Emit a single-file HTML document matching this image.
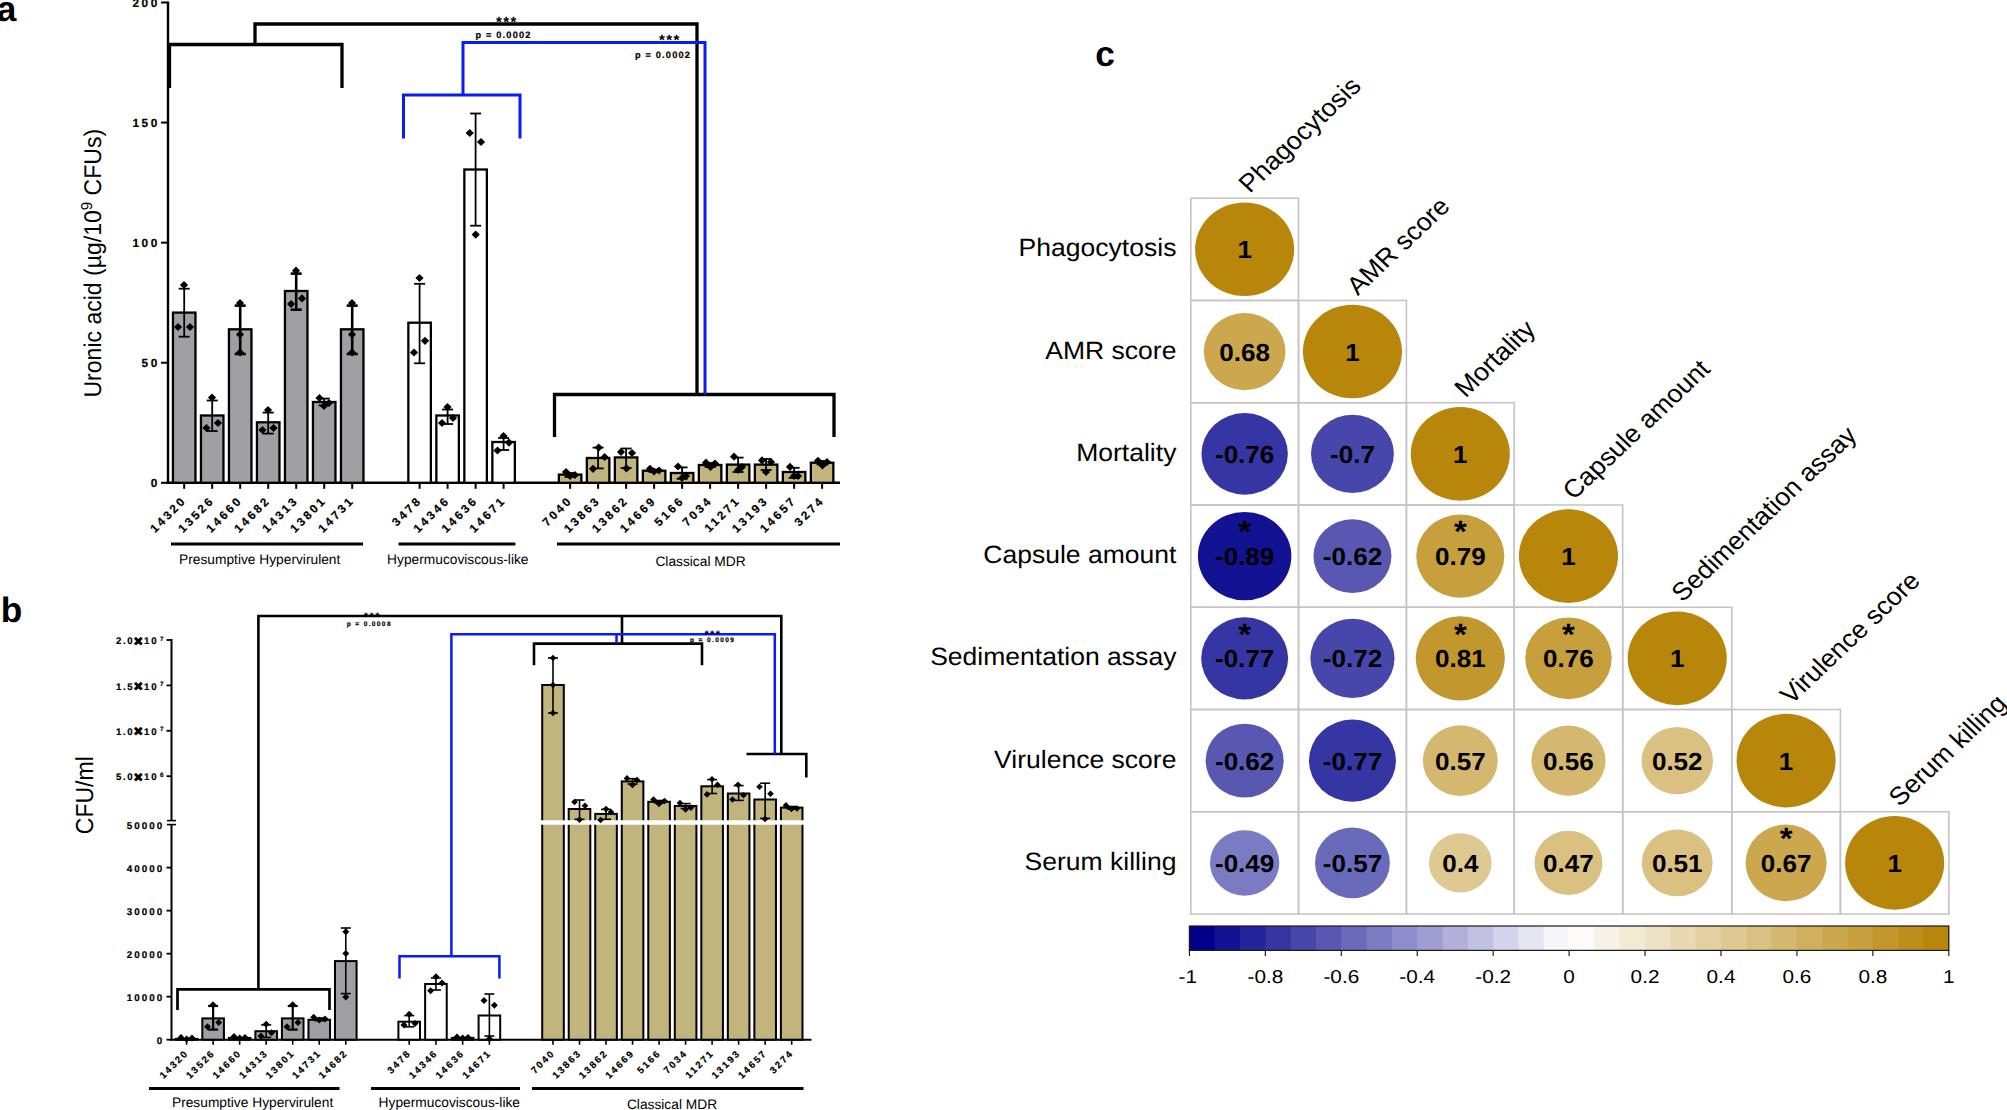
<!DOCTYPE html>
<html lang="en"><head><meta charset="utf-8"><title>Figure</title>
<style>html,body{margin:0;padding:0;background:#fff}body{width:2007px;height:1110px;overflow:hidden}svg text{fill:#000}</style></head><body>
<svg width="2007" height="1110" viewBox="0 0 2007 1110" style="display:block" text-rendering="geometricPrecision">
<rect width="2007" height="1110" fill="#fff"/>
<g id="panel-a">
<line x1="168.00" y1="1.50" x2="168.00" y2="484.00" stroke="#000" stroke-width="2.4" stroke-linecap="butt"/>
<line x1="166.80" y1="482.80" x2="840.00" y2="482.80" stroke="#000" stroke-width="2.5" stroke-linecap="butt"/>
<line x1="161.00" y1="482.80" x2="168.00" y2="482.80" stroke="#000" stroke-width="2" stroke-linecap="butt"/>
<text x="157.30" y="487.00" font-family="'Liberation Sans', Arial, sans-serif" font-size="11.8" font-weight="bold" text-anchor="end" letter-spacing="2.6" dx="2.6" stroke="#000" stroke-width="0.2">0</text>
<line x1="161.00" y1="362.73" x2="168.00" y2="362.73" stroke="#000" stroke-width="2" stroke-linecap="butt"/>
<text x="157.30" y="366.93" font-family="'Liberation Sans', Arial, sans-serif" font-size="11.8" font-weight="bold" text-anchor="end" letter-spacing="2.6" dx="2.6" stroke="#000" stroke-width="0.2">50</text>
<line x1="161.00" y1="242.65" x2="168.00" y2="242.65" stroke="#000" stroke-width="2" stroke-linecap="butt"/>
<text x="157.30" y="246.85" font-family="'Liberation Sans', Arial, sans-serif" font-size="11.8" font-weight="bold" text-anchor="end" letter-spacing="2.6" dx="2.6" stroke="#000" stroke-width="0.2">100</text>
<line x1="161.00" y1="122.57" x2="168.00" y2="122.57" stroke="#000" stroke-width="2" stroke-linecap="butt"/>
<text x="157.30" y="126.77" font-family="'Liberation Sans', Arial, sans-serif" font-size="11.8" font-weight="bold" text-anchor="end" letter-spacing="2.6" dx="2.6" stroke="#000" stroke-width="0.2">150</text>
<line x1="161.00" y1="2.50" x2="168.00" y2="2.50" stroke="#000" stroke-width="2" stroke-linecap="butt"/>
<text x="157.30" y="6.70" font-family="'Liberation Sans', Arial, sans-serif" font-size="11.8" font-weight="bold" text-anchor="end" letter-spacing="2.6" dx="2.6" stroke="#000" stroke-width="0.2">200</text>
<text transform="translate(100.8 263.2) rotate(-90) scale(0.952 1)" font-family="'Liberation Sans', Arial, sans-serif" font-size="24.2" text-anchor="middle">Uronic acid (µg/10<tspan font-size="15.8" dy="-8.6">9</tspan><tspan dy="8.6"> CFUs)</tspan></text>
<text x="-3.20" y="21.30" font-family="'Liberation Sans', Arial, sans-serif" font-size="35.3" font-weight="bold" text-anchor="start">a</text>
<rect x="172.95" y="312.60" width="22.50" height="170.20" fill="#a09fa4" stroke="#000" stroke-width="2.3"/>
<line x1="184.20" y1="288.70" x2="184.20" y2="336.70" stroke="#000" stroke-width="1.8" stroke-linecap="butt"/>
<line x1="178.70" y1="288.70" x2="189.70" y2="288.70" stroke="#000" stroke-width="1.8" stroke-linecap="butt"/>
<line x1="178.70" y1="336.70" x2="189.70" y2="336.70" stroke="#000" stroke-width="1.8" stroke-linecap="butt"/>
<path d="M184.00 280.90L188.10 285.00L184.00 289.10L179.90 285.00Z" fill="#000"/>
<path d="M178.00 322.90L182.10 327.00L178.00 331.10L173.90 327.00Z" fill="#000"/>
<path d="M190.00 322.90L194.10 327.00L190.00 331.10L185.90 327.00Z" fill="#000"/>
<line x1="184.20" y1="482.80" x2="184.20" y2="488.80" stroke="#000" stroke-width="2" stroke-linecap="butt"/>
<text x="185.50" y="502.90" font-family="'Liberation Sans', Arial, sans-serif" font-size="11.8" font-weight="bold" text-anchor="end" letter-spacing="2.6" transform="rotate(-45 185.50 502.90)" dx="2.6" stroke="#000" stroke-width="0.2">14320</text>
<rect x="200.95" y="415.50" width="22.50" height="67.30" fill="#a09fa4" stroke="#000" stroke-width="2.3"/>
<line x1="212.20" y1="400.50" x2="212.20" y2="431.00" stroke="#000" stroke-width="1.8" stroke-linecap="butt"/>
<line x1="206.70" y1="400.50" x2="217.70" y2="400.50" stroke="#000" stroke-width="1.8" stroke-linecap="butt"/>
<line x1="206.70" y1="431.00" x2="217.70" y2="431.00" stroke="#000" stroke-width="1.8" stroke-linecap="butt"/>
<path d="M212.00 393.40L216.10 397.50L212.00 401.60L207.90 397.50Z" fill="#000"/>
<path d="M206.50 423.90L210.60 428.00L206.50 432.10L202.40 428.00Z" fill="#000"/>
<path d="M218.00 418.90L222.10 423.00L218.00 427.10L213.90 423.00Z" fill="#000"/>
<line x1="212.20" y1="482.80" x2="212.20" y2="488.80" stroke="#000" stroke-width="2" stroke-linecap="butt"/>
<text x="213.50" y="502.90" font-family="'Liberation Sans', Arial, sans-serif" font-size="11.8" font-weight="bold" text-anchor="end" letter-spacing="2.6" transform="rotate(-45 213.50 502.90)" dx="2.6" stroke="#000" stroke-width="0.2">13526</text>
<rect x="228.95" y="329.30" width="22.50" height="153.50" fill="#a09fa4" stroke="#000" stroke-width="2.3"/>
<line x1="240.20" y1="305.60" x2="240.20" y2="354.00" stroke="#000" stroke-width="2.6" stroke-linecap="butt"/>
<line x1="234.70" y1="305.60" x2="245.70" y2="305.60" stroke="#000" stroke-width="2.6" stroke-linecap="butt"/>
<line x1="234.70" y1="354.00" x2="245.70" y2="354.00" stroke="#000" stroke-width="2.6" stroke-linecap="butt"/>
<path d="M240.00 298.90L244.10 303.00L240.00 307.10L235.90 303.00Z" fill="#000"/>
<path d="M240.00 330.40L244.10 334.50L240.00 338.60L235.90 334.50Z" fill="#000"/>
<path d="M240.00 348.40L244.10 352.50L240.00 356.60L235.90 352.50Z" fill="#000"/>
<line x1="240.20" y1="482.80" x2="240.20" y2="488.80" stroke="#000" stroke-width="2" stroke-linecap="butt"/>
<text x="241.50" y="502.90" font-family="'Liberation Sans', Arial, sans-serif" font-size="11.8" font-weight="bold" text-anchor="end" letter-spacing="2.6" transform="rotate(-45 241.50 502.90)" dx="2.6" stroke="#000" stroke-width="0.2">14660</text>
<rect x="256.95" y="422.30" width="22.50" height="60.50" fill="#a09fa4" stroke="#000" stroke-width="2.3"/>
<line x1="268.20" y1="412.60" x2="268.20" y2="433.60" stroke="#000" stroke-width="1.8" stroke-linecap="butt"/>
<line x1="262.70" y1="412.60" x2="273.70" y2="412.60" stroke="#000" stroke-width="1.8" stroke-linecap="butt"/>
<line x1="262.70" y1="433.60" x2="273.70" y2="433.60" stroke="#000" stroke-width="1.8" stroke-linecap="butt"/>
<path d="M268.00 405.90L272.10 410.00L268.00 414.10L263.90 410.00Z" fill="#000"/>
<path d="M262.50 425.90L266.60 430.00L262.50 434.10L258.40 430.00Z" fill="#000"/>
<path d="M273.50 423.90L277.60 428.00L273.50 432.10L269.40 428.00Z" fill="#000"/>
<line x1="268.20" y1="482.80" x2="268.20" y2="488.80" stroke="#000" stroke-width="2" stroke-linecap="butt"/>
<text x="269.50" y="502.90" font-family="'Liberation Sans', Arial, sans-serif" font-size="11.8" font-weight="bold" text-anchor="end" letter-spacing="2.6" transform="rotate(-45 269.50 502.90)" dx="2.6" stroke="#000" stroke-width="0.2">14682</text>
<rect x="284.95" y="291.00" width="22.50" height="191.80" fill="#a09fa4" stroke="#000" stroke-width="2.3"/>
<line x1="296.20" y1="273.60" x2="296.20" y2="309.70" stroke="#000" stroke-width="2.6" stroke-linecap="butt"/>
<line x1="290.70" y1="273.60" x2="301.70" y2="273.60" stroke="#000" stroke-width="2.6" stroke-linecap="butt"/>
<line x1="290.70" y1="309.70" x2="301.70" y2="309.70" stroke="#000" stroke-width="2.6" stroke-linecap="butt"/>
<path d="M296.00 266.60L300.10 270.70L296.00 274.80L291.90 270.70Z" fill="#000"/>
<path d="M291.00 299.90L295.10 304.00L291.00 308.10L286.90 304.00Z" fill="#000"/>
<path d="M302.00 294.30L306.10 298.40L302.00 302.50L297.90 298.40Z" fill="#000"/>
<line x1="296.20" y1="482.80" x2="296.20" y2="488.80" stroke="#000" stroke-width="2" stroke-linecap="butt"/>
<text x="297.50" y="502.90" font-family="'Liberation Sans', Arial, sans-serif" font-size="11.8" font-weight="bold" text-anchor="end" letter-spacing="2.6" transform="rotate(-45 297.50 502.90)" dx="2.6" stroke="#000" stroke-width="0.2">14313</text>
<rect x="312.95" y="402.00" width="22.50" height="80.80" fill="#a09fa4" stroke="#000" stroke-width="2.3"/>
<line x1="324.20" y1="398.60" x2="324.20" y2="405.40" stroke="#000" stroke-width="1.8" stroke-linecap="butt"/>
<line x1="318.70" y1="398.60" x2="329.70" y2="398.60" stroke="#000" stroke-width="1.8" stroke-linecap="butt"/>
<line x1="318.70" y1="405.40" x2="329.70" y2="405.40" stroke="#000" stroke-width="1.8" stroke-linecap="butt"/>
<path d="M319.50 393.90L323.60 398.00L319.50 402.10L315.40 398.00Z" fill="#000"/>
<path d="M324.00 401.90L328.10 406.00L324.00 410.10L319.90 406.00Z" fill="#000"/>
<path d="M329.00 398.90L333.10 403.00L329.00 407.10L324.90 403.00Z" fill="#000"/>
<line x1="324.20" y1="482.80" x2="324.20" y2="488.80" stroke="#000" stroke-width="2" stroke-linecap="butt"/>
<text x="325.50" y="502.90" font-family="'Liberation Sans', Arial, sans-serif" font-size="11.8" font-weight="bold" text-anchor="end" letter-spacing="2.6" transform="rotate(-45 325.50 502.90)" dx="2.6" stroke="#000" stroke-width="0.2">13801</text>
<rect x="340.95" y="329.30" width="22.50" height="153.50" fill="#a09fa4" stroke="#000" stroke-width="2.3"/>
<line x1="352.20" y1="305.60" x2="352.20" y2="354.00" stroke="#000" stroke-width="2.6" stroke-linecap="butt"/>
<line x1="346.70" y1="305.60" x2="357.70" y2="305.60" stroke="#000" stroke-width="2.6" stroke-linecap="butt"/>
<line x1="346.70" y1="354.00" x2="357.70" y2="354.00" stroke="#000" stroke-width="2.6" stroke-linecap="butt"/>
<path d="M352.00 298.90L356.10 303.00L352.00 307.10L347.90 303.00Z" fill="#000"/>
<path d="M352.00 330.40L356.10 334.50L352.00 338.60L347.90 334.50Z" fill="#000"/>
<path d="M352.00 348.40L356.10 352.50L352.00 356.60L347.90 352.50Z" fill="#000"/>
<line x1="352.20" y1="482.80" x2="352.20" y2="488.80" stroke="#000" stroke-width="2" stroke-linecap="butt"/>
<text x="353.50" y="502.90" font-family="'Liberation Sans', Arial, sans-serif" font-size="11.8" font-weight="bold" text-anchor="end" letter-spacing="2.6" transform="rotate(-45 353.50 502.90)" dx="2.6" stroke="#000" stroke-width="0.2">14731</text>
<rect x="408.35" y="322.70" width="22.50" height="160.10" fill="#fff" stroke="#000" stroke-width="2.3"/>
<line x1="419.60" y1="283.80" x2="419.60" y2="363.30" stroke="#000" stroke-width="1.8" stroke-linecap="butt"/>
<line x1="414.10" y1="283.80" x2="425.10" y2="283.80" stroke="#000" stroke-width="1.8" stroke-linecap="butt"/>
<line x1="414.10" y1="363.30" x2="425.10" y2="363.30" stroke="#000" stroke-width="1.8" stroke-linecap="butt"/>
<path d="M419.50 273.90L423.60 278.00L419.50 282.10L415.40 278.00Z" fill="#000"/>
<path d="M425.00 336.70L429.10 340.80L425.00 344.90L420.90 340.80Z" fill="#000"/>
<path d="M414.00 348.40L418.10 352.50L414.00 356.60L409.90 352.50Z" fill="#000"/>
<line x1="419.60" y1="482.80" x2="419.60" y2="488.80" stroke="#000" stroke-width="2" stroke-linecap="butt"/>
<text x="420.90" y="502.90" font-family="'Liberation Sans', Arial, sans-serif" font-size="11.8" font-weight="bold" text-anchor="end" letter-spacing="2.6" transform="rotate(-45 420.90 502.90)" dx="2.6" stroke="#000" stroke-width="0.2">3478</text>
<rect x="436.35" y="415.50" width="22.50" height="67.30" fill="#fff" stroke="#000" stroke-width="2.3"/>
<line x1="447.60" y1="409.50" x2="447.60" y2="424.00" stroke="#000" stroke-width="1.8" stroke-linecap="butt"/>
<line x1="442.10" y1="409.50" x2="453.10" y2="409.50" stroke="#000" stroke-width="1.8" stroke-linecap="butt"/>
<line x1="442.10" y1="424.00" x2="453.10" y2="424.00" stroke="#000" stroke-width="1.8" stroke-linecap="butt"/>
<path d="M447.50 402.90L451.60 407.00L447.50 411.10L443.40 407.00Z" fill="#000"/>
<path d="M442.00 418.90L446.10 423.00L442.00 427.10L437.90 423.00Z" fill="#000"/>
<path d="M453.00 413.90L457.10 418.00L453.00 422.10L448.90 418.00Z" fill="#000"/>
<line x1="447.60" y1="482.80" x2="447.60" y2="488.80" stroke="#000" stroke-width="2" stroke-linecap="butt"/>
<text x="448.90" y="502.90" font-family="'Liberation Sans', Arial, sans-serif" font-size="11.8" font-weight="bold" text-anchor="end" letter-spacing="2.6" transform="rotate(-45 448.90 502.90)" dx="2.6" stroke="#000" stroke-width="0.2">14346</text>
<rect x="464.35" y="169.50" width="22.50" height="313.30" fill="#fff" stroke="#000" stroke-width="2.3"/>
<line x1="475.60" y1="113.50" x2="475.60" y2="225.70" stroke="#000" stroke-width="1.8" stroke-linecap="butt"/>
<line x1="470.10" y1="113.50" x2="481.10" y2="113.50" stroke="#000" stroke-width="1.8" stroke-linecap="butt"/>
<line x1="470.10" y1="225.70" x2="481.10" y2="225.70" stroke="#000" stroke-width="1.8" stroke-linecap="butt"/>
<path d="M469.70 128.90L473.80 133.00L469.70 137.10L465.60 133.00Z" fill="#000"/>
<path d="M481.00 137.90L485.10 142.00L481.00 146.10L476.90 142.00Z" fill="#000"/>
<path d="M475.70 230.50L479.80 234.60L475.70 238.70L471.60 234.60Z" fill="#000"/>
<line x1="475.60" y1="482.80" x2="475.60" y2="488.80" stroke="#000" stroke-width="2" stroke-linecap="butt"/>
<text x="476.90" y="502.90" font-family="'Liberation Sans', Arial, sans-serif" font-size="11.8" font-weight="bold" text-anchor="end" letter-spacing="2.6" transform="rotate(-45 476.90 502.90)" dx="2.6" stroke="#000" stroke-width="0.2">14636</text>
<rect x="492.35" y="442.00" width="22.50" height="40.80" fill="#fff" stroke="#000" stroke-width="2.3"/>
<line x1="503.60" y1="438.00" x2="503.60" y2="450.00" stroke="#000" stroke-width="1.8" stroke-linecap="butt"/>
<line x1="498.10" y1="438.00" x2="509.10" y2="438.00" stroke="#000" stroke-width="1.8" stroke-linecap="butt"/>
<line x1="498.10" y1="450.00" x2="509.10" y2="450.00" stroke="#000" stroke-width="1.8" stroke-linecap="butt"/>
<path d="M503.50 431.90L507.60 436.00L503.50 440.10L499.40 436.00Z" fill="#000"/>
<path d="M497.50 446.40L501.60 450.50L497.50 454.60L493.40 450.50Z" fill="#000"/>
<path d="M509.00 438.50L513.10 442.60L509.00 446.70L504.90 442.60Z" fill="#000"/>
<line x1="503.60" y1="482.80" x2="503.60" y2="488.80" stroke="#000" stroke-width="2" stroke-linecap="butt"/>
<text x="504.90" y="502.90" font-family="'Liberation Sans', Arial, sans-serif" font-size="11.8" font-weight="bold" text-anchor="end" letter-spacing="2.6" transform="rotate(-45 504.90 502.90)" dx="2.6" stroke="#000" stroke-width="0.2">14671</text>
<rect x="558.85" y="474.60" width="22.50" height="8.20" fill="#c1b47c" stroke="#000" stroke-width="2.3"/>
<line x1="570.10" y1="473.00" x2="570.10" y2="477.00" stroke="#000" stroke-width="1.8" stroke-linecap="butt"/>
<line x1="564.60" y1="473.00" x2="575.60" y2="473.00" stroke="#000" stroke-width="1.8" stroke-linecap="butt"/>
<line x1="564.60" y1="477.00" x2="575.60" y2="477.00" stroke="#000" stroke-width="1.8" stroke-linecap="butt"/>
<path d="M566.00 467.90L570.10 472.00L566.00 476.10L561.90 472.00Z" fill="#000"/>
<path d="M570.00 471.90L574.10 476.00L570.00 480.10L565.90 476.00Z" fill="#000"/>
<path d="M575.00 470.90L579.10 475.00L575.00 479.10L570.90 475.00Z" fill="#000"/>
<line x1="570.10" y1="482.80" x2="570.10" y2="488.80" stroke="#000" stroke-width="2" stroke-linecap="butt"/>
<text x="571.40" y="502.90" font-family="'Liberation Sans', Arial, sans-serif" font-size="11.8" font-weight="bold" text-anchor="end" letter-spacing="2.6" transform="rotate(-45 571.40 502.90)" dx="2.6" stroke="#000" stroke-width="0.2">7040</text>
<rect x="586.85" y="458.00" width="22.50" height="24.80" fill="#c1b47c" stroke="#000" stroke-width="2.3"/>
<line x1="598.10" y1="447.60" x2="598.10" y2="468.40" stroke="#000" stroke-width="1.8" stroke-linecap="butt"/>
<line x1="592.60" y1="447.60" x2="603.60" y2="447.60" stroke="#000" stroke-width="1.8" stroke-linecap="butt"/>
<line x1="592.60" y1="468.40" x2="603.60" y2="468.40" stroke="#000" stroke-width="1.8" stroke-linecap="butt"/>
<path d="M598.70 443.50L602.80 447.60L598.70 451.70L594.60 447.60Z" fill="#000"/>
<path d="M604.60 452.90L608.70 457.00L604.60 461.10L600.50 457.00Z" fill="#000"/>
<path d="M593.00 464.70L597.10 468.80L593.00 472.90L588.90 468.80Z" fill="#000"/>
<line x1="598.10" y1="482.80" x2="598.10" y2="488.80" stroke="#000" stroke-width="2" stroke-linecap="butt"/>
<text x="599.40" y="502.90" font-family="'Liberation Sans', Arial, sans-serif" font-size="11.8" font-weight="bold" text-anchor="end" letter-spacing="2.6" transform="rotate(-45 599.40 502.90)" dx="2.6" stroke="#000" stroke-width="0.2">13863</text>
<rect x="614.85" y="457.40" width="22.50" height="25.40" fill="#c1b47c" stroke="#000" stroke-width="2.3"/>
<line x1="626.10" y1="448.50" x2="626.10" y2="468.00" stroke="#000" stroke-width="1.8" stroke-linecap="butt"/>
<line x1="620.60" y1="448.50" x2="631.60" y2="448.50" stroke="#000" stroke-width="1.8" stroke-linecap="butt"/>
<line x1="620.60" y1="468.00" x2="631.60" y2="468.00" stroke="#000" stroke-width="1.8" stroke-linecap="butt"/>
<path d="M621.00 447.90L625.10 452.00L621.00 456.10L616.90 452.00Z" fill="#000"/>
<path d="M632.00 448.90L636.10 453.00L632.00 457.10L627.90 453.00Z" fill="#000"/>
<path d="M626.50 464.30L630.60 468.40L626.50 472.50L622.40 468.40Z" fill="#000"/>
<line x1="626.10" y1="482.80" x2="626.10" y2="488.80" stroke="#000" stroke-width="2" stroke-linecap="butt"/>
<text x="627.40" y="502.90" font-family="'Liberation Sans', Arial, sans-serif" font-size="11.8" font-weight="bold" text-anchor="end" letter-spacing="2.6" transform="rotate(-45 627.40 502.90)" dx="2.6" stroke="#000" stroke-width="0.2">13862</text>
<rect x="642.85" y="470.70" width="22.50" height="12.10" fill="#c1b47c" stroke="#000" stroke-width="2.3"/>
<line x1="654.10" y1="469.50" x2="654.10" y2="472.00" stroke="#000" stroke-width="1.8" stroke-linecap="butt"/>
<line x1="648.60" y1="469.50" x2="659.60" y2="469.50" stroke="#000" stroke-width="1.8" stroke-linecap="butt"/>
<line x1="648.60" y1="472.00" x2="659.60" y2="472.00" stroke="#000" stroke-width="1.8" stroke-linecap="butt"/>
<path d="M650.00 464.70L654.10 468.80L650.00 472.90L645.90 468.80Z" fill="#000"/>
<path d="M654.00 467.40L658.10 471.50L654.00 475.60L649.90 471.50Z" fill="#000"/>
<path d="M659.00 466.40L663.10 470.50L659.00 474.60L654.90 470.50Z" fill="#000"/>
<line x1="654.10" y1="482.80" x2="654.10" y2="488.80" stroke="#000" stroke-width="2" stroke-linecap="butt"/>
<text x="655.40" y="502.90" font-family="'Liberation Sans', Arial, sans-serif" font-size="11.8" font-weight="bold" text-anchor="end" letter-spacing="2.6" transform="rotate(-45 655.40 502.90)" dx="2.6" stroke="#000" stroke-width="0.2">14669</text>
<rect x="670.85" y="473.00" width="22.50" height="9.80" fill="#c1b47c" stroke="#000" stroke-width="2.3"/>
<line x1="682.10" y1="467.40" x2="682.10" y2="478.80" stroke="#000" stroke-width="1.8" stroke-linecap="butt"/>
<line x1="676.60" y1="467.40" x2="687.60" y2="467.40" stroke="#000" stroke-width="1.8" stroke-linecap="butt"/>
<line x1="676.60" y1="478.80" x2="687.60" y2="478.80" stroke="#000" stroke-width="1.8" stroke-linecap="butt"/>
<path d="M678.00 462.40L682.10 466.50L678.00 470.60L673.90 466.50Z" fill="#000"/>
<path d="M682.00 473.90L686.10 478.00L682.00 482.10L677.90 478.00Z" fill="#000"/>
<path d="M686.00 471.90L690.10 476.00L686.00 480.10L681.90 476.00Z" fill="#000"/>
<line x1="682.10" y1="482.80" x2="682.10" y2="488.80" stroke="#000" stroke-width="2" stroke-linecap="butt"/>
<text x="683.40" y="502.90" font-family="'Liberation Sans', Arial, sans-serif" font-size="11.8" font-weight="bold" text-anchor="end" letter-spacing="2.6" transform="rotate(-45 683.40 502.90)" dx="2.6" stroke="#000" stroke-width="0.2">5166</text>
<rect x="698.85" y="465.00" width="22.50" height="17.80" fill="#c1b47c" stroke="#000" stroke-width="2.3"/>
<line x1="710.10" y1="463.00" x2="710.10" y2="467.00" stroke="#000" stroke-width="1.8" stroke-linecap="butt"/>
<line x1="704.60" y1="463.00" x2="715.60" y2="463.00" stroke="#000" stroke-width="1.8" stroke-linecap="butt"/>
<line x1="704.60" y1="467.00" x2="715.60" y2="467.00" stroke="#000" stroke-width="1.8" stroke-linecap="butt"/>
<path d="M706.00 458.60L710.10 462.70L706.00 466.80L701.90 462.70Z" fill="#000"/>
<path d="M710.50 462.90L714.60 467.00L710.50 471.10L706.40 467.00Z" fill="#000"/>
<path d="M715.00 459.50L719.10 463.60L715.00 467.70L710.90 463.60Z" fill="#000"/>
<line x1="710.10" y1="482.80" x2="710.10" y2="488.80" stroke="#000" stroke-width="2" stroke-linecap="butt"/>
<text x="711.40" y="502.90" font-family="'Liberation Sans', Arial, sans-serif" font-size="11.8" font-weight="bold" text-anchor="end" letter-spacing="2.6" transform="rotate(-45 711.40 502.90)" dx="2.6" stroke="#000" stroke-width="0.2">7034</text>
<rect x="726.85" y="464.60" width="22.50" height="18.20" fill="#c1b47c" stroke="#000" stroke-width="2.3"/>
<line x1="738.10" y1="457.60" x2="738.10" y2="472.00" stroke="#000" stroke-width="1.8" stroke-linecap="butt"/>
<line x1="732.60" y1="457.60" x2="743.60" y2="457.60" stroke="#000" stroke-width="1.8" stroke-linecap="butt"/>
<line x1="732.60" y1="472.00" x2="743.60" y2="472.00" stroke="#000" stroke-width="1.8" stroke-linecap="butt"/>
<path d="M734.00 452.60L738.10 456.70L734.00 460.80L729.90 456.70Z" fill="#000"/>
<path d="M738.00 465.90L742.10 470.00L738.00 474.10L733.90 470.00Z" fill="#000"/>
<path d="M742.00 462.90L746.10 467.00L742.00 471.10L737.90 467.00Z" fill="#000"/>
<line x1="738.10" y1="482.80" x2="738.10" y2="488.80" stroke="#000" stroke-width="2" stroke-linecap="butt"/>
<text x="739.40" y="502.90" font-family="'Liberation Sans', Arial, sans-serif" font-size="11.8" font-weight="bold" text-anchor="end" letter-spacing="2.6" transform="rotate(-45 739.40 502.90)" dx="2.6" stroke="#000" stroke-width="0.2">11271</text>
<rect x="754.85" y="464.60" width="22.50" height="18.20" fill="#c1b47c" stroke="#000" stroke-width="2.3"/>
<line x1="766.10" y1="459.00" x2="766.10" y2="470.00" stroke="#000" stroke-width="1.8" stroke-linecap="butt"/>
<line x1="760.60" y1="459.00" x2="771.60" y2="459.00" stroke="#000" stroke-width="1.8" stroke-linecap="butt"/>
<line x1="760.60" y1="470.00" x2="771.60" y2="470.00" stroke="#000" stroke-width="1.8" stroke-linecap="butt"/>
<path d="M762.00 456.30L766.10 460.40L762.00 464.50L757.90 460.40Z" fill="#000"/>
<path d="M771.00 457.90L775.10 462.00L771.00 466.10L766.90 462.00Z" fill="#000"/>
<path d="M766.00 467.90L770.10 472.00L766.00 476.10L761.90 472.00Z" fill="#000"/>
<line x1="766.10" y1="482.80" x2="766.10" y2="488.80" stroke="#000" stroke-width="2" stroke-linecap="butt"/>
<text x="767.40" y="502.90" font-family="'Liberation Sans', Arial, sans-serif" font-size="11.8" font-weight="bold" text-anchor="end" letter-spacing="2.6" transform="rotate(-45 767.40 502.90)" dx="2.6" stroke="#000" stroke-width="0.2">13193</text>
<rect x="782.85" y="472.00" width="22.50" height="10.80" fill="#c1b47c" stroke="#000" stroke-width="2.3"/>
<line x1="794.10" y1="467.80" x2="794.10" y2="477.90" stroke="#000" stroke-width="1.8" stroke-linecap="butt"/>
<line x1="788.60" y1="467.80" x2="799.60" y2="467.80" stroke="#000" stroke-width="1.8" stroke-linecap="butt"/>
<line x1="788.60" y1="477.90" x2="799.60" y2="477.90" stroke="#000" stroke-width="1.8" stroke-linecap="butt"/>
<path d="M790.00 462.80L794.10 466.90L790.00 471.00L785.90 466.90Z" fill="#000"/>
<path d="M794.00 471.90L798.10 476.00L794.00 480.10L789.90 476.00Z" fill="#000"/>
<path d="M798.00 471.90L802.10 476.00L798.00 480.10L793.90 476.00Z" fill="#000"/>
<line x1="794.10" y1="482.80" x2="794.10" y2="488.80" stroke="#000" stroke-width="2" stroke-linecap="butt"/>
<text x="795.40" y="502.90" font-family="'Liberation Sans', Arial, sans-serif" font-size="11.8" font-weight="bold" text-anchor="end" letter-spacing="2.6" transform="rotate(-45 795.40 502.90)" dx="2.6" stroke="#000" stroke-width="0.2">14657</text>
<rect x="810.85" y="462.70" width="22.50" height="20.10" fill="#c1b47c" stroke="#000" stroke-width="2.3"/>
<line x1="822.10" y1="461.00" x2="822.10" y2="464.50" stroke="#000" stroke-width="1.8" stroke-linecap="butt"/>
<line x1="816.60" y1="461.00" x2="827.60" y2="461.00" stroke="#000" stroke-width="1.8" stroke-linecap="butt"/>
<line x1="816.60" y1="464.50" x2="827.60" y2="464.50" stroke="#000" stroke-width="1.8" stroke-linecap="butt"/>
<path d="M818.00 456.70L822.10 460.80L818.00 464.90L813.90 460.80Z" fill="#000"/>
<path d="M822.50 461.40L826.60 465.50L822.50 469.60L818.40 465.50Z" fill="#000"/>
<path d="M827.00 457.90L831.10 462.00L827.00 466.10L822.90 462.00Z" fill="#000"/>
<line x1="822.10" y1="482.80" x2="822.10" y2="488.80" stroke="#000" stroke-width="2" stroke-linecap="butt"/>
<text x="823.40" y="502.90" font-family="'Liberation Sans', Arial, sans-serif" font-size="11.8" font-weight="bold" text-anchor="end" letter-spacing="2.6" transform="rotate(-45 823.40 502.90)" dx="2.6" stroke="#000" stroke-width="0.2">3274</text>
<line x1="171.00" y1="544.00" x2="363.00" y2="544.00" stroke="#000" stroke-width="3" stroke-linecap="butt"/>
<line x1="398.60" y1="544.00" x2="515.40" y2="544.00" stroke="#000" stroke-width="3" stroke-linecap="butt"/>
<line x1="557.00" y1="544.00" x2="840.00" y2="544.00" stroke="#000" stroke-width="3" stroke-linecap="butt"/>
<text x="259.70" y="563.50" font-family="'Liberation Sans', Arial, sans-serif" font-size="13.75" font-weight="normal" text-anchor="middle">Presumptive Hypervirulent</text>
<text x="457.80" y="563.50" font-family="'Liberation Sans', Arial, sans-serif" font-size="13.75" font-weight="normal" text-anchor="middle">Hypermucoviscous-like</text>
<text x="700.50" y="565.80" font-family="'Liberation Sans', Arial, sans-serif" font-size="13.75" font-weight="normal" text-anchor="middle">Classical MDR</text>
<polyline points="169.50,88.00 169.50,44.50 342.00,44.50 342.00,88.00" fill="none" stroke="#000" stroke-width="3.3" stroke-linejoin="miter"/>
<polyline points="255.00,44.50 255.00,24.00 697.00,24.00 697.00,394.50" fill="none" stroke="#000" stroke-width="3.3" stroke-linejoin="miter"/>
<polyline points="554.50,437.00 554.50,394.50 834.00,394.50 834.00,437.00" fill="none" stroke="#000" stroke-width="3.3" stroke-linejoin="miter"/>
<polyline points="403.50,138.50 403.50,95.00 520.00,95.00 520.00,138.50" fill="none" stroke="#0a1cf5" stroke-width="3.0" stroke-linejoin="miter"/>
<polyline points="463.00,95.00 463.00,42.50 705.00,42.50 705.00,394.50" fill="none" stroke="#0a1cf5" stroke-width="3.0" stroke-linejoin="miter"/>
<text x="506.80" y="27.20" font-family="'Liberation Sans', Arial, sans-serif" font-size="15" font-weight="bold" text-anchor="middle" letter-spacing="1.4">***</text>
<text x="503.50" y="37.60" font-family="'Liberation Sans', Arial, sans-serif" font-size="9.2" font-weight="bold" text-anchor="middle" letter-spacing="1.2" stroke="#000" stroke-width="0.2">p = 0.0002</text>
<text x="669.80" y="45.20" font-family="'Liberation Sans', Arial, sans-serif" font-size="15" font-weight="bold" text-anchor="middle" letter-spacing="1.4">***</text>
<text x="663.00" y="57.60" font-family="'Liberation Sans', Arial, sans-serif" font-size="9.2" font-weight="bold" text-anchor="middle" letter-spacing="1.2" stroke="#000" stroke-width="0.2">p = 0.0002</text>
</g><g id="panel-b">
<line x1="171.50" y1="639.00" x2="171.50" y2="820.60" stroke="#000" stroke-width="2" stroke-linecap="butt"/>
<line x1="171.50" y1="824.60" x2="171.50" y2="1040.70" stroke="#000" stroke-width="2" stroke-linecap="butt"/>
<line x1="170.50" y1="1039.70" x2="811.50" y2="1039.70" stroke="#000" stroke-width="2.0" stroke-linecap="butt"/>
<line x1="167.00" y1="820.60" x2="176.00" y2="820.60" stroke="#000" stroke-width="1.6" stroke-linecap="butt"/>
<line x1="167.00" y1="824.60" x2="176.00" y2="824.60" stroke="#000" stroke-width="1.6" stroke-linecap="butt"/>
<line x1="166.50" y1="1039.70" x2="171.50" y2="1039.70" stroke="#000" stroke-width="1.8" stroke-linecap="butt"/>
<text x="162.30" y="1044.10" font-family="'Liberation Sans', Arial, sans-serif" font-size="9.8" font-weight="bold" text-anchor="end" letter-spacing="2.05" dx="2.05" stroke="#000" stroke-width="0.2">0</text>
<line x1="166.50" y1="996.68" x2="171.50" y2="996.68" stroke="#000" stroke-width="1.8" stroke-linecap="butt"/>
<text x="162.30" y="1001.08" font-family="'Liberation Sans', Arial, sans-serif" font-size="9.8" font-weight="bold" text-anchor="end" letter-spacing="2.05" dx="2.05" stroke="#000" stroke-width="0.2">10000</text>
<line x1="166.50" y1="953.66" x2="171.50" y2="953.66" stroke="#000" stroke-width="1.8" stroke-linecap="butt"/>
<text x="162.30" y="958.06" font-family="'Liberation Sans', Arial, sans-serif" font-size="9.8" font-weight="bold" text-anchor="end" letter-spacing="2.05" dx="2.05" stroke="#000" stroke-width="0.2">20000</text>
<line x1="166.50" y1="910.64" x2="171.50" y2="910.64" stroke="#000" stroke-width="1.8" stroke-linecap="butt"/>
<text x="162.30" y="915.04" font-family="'Liberation Sans', Arial, sans-serif" font-size="9.8" font-weight="bold" text-anchor="end" letter-spacing="2.05" dx="2.05" stroke="#000" stroke-width="0.2">30000</text>
<line x1="166.50" y1="867.62" x2="171.50" y2="867.62" stroke="#000" stroke-width="1.8" stroke-linecap="butt"/>
<text x="162.30" y="872.02" font-family="'Liberation Sans', Arial, sans-serif" font-size="9.8" font-weight="bold" text-anchor="end" letter-spacing="2.05" dx="2.05" stroke="#000" stroke-width="0.2">40000</text>
<text x="162.30" y="829.00" font-family="'Liberation Sans', Arial, sans-serif" font-size="9.8" font-weight="bold" text-anchor="end" letter-spacing="2.05" dx="2.05" stroke="#000" stroke-width="0.2">50000</text>
<line x1="166.50" y1="640.00" x2="171.50" y2="640.00" stroke="#000" stroke-width="1.8" stroke-linecap="butt"/>
<text x="116.00" y="644.20" font-family="'Liberation Sans', Arial, sans-serif" font-size="9.6" font-weight="bold" text-anchor="start" letter-spacing="1.65" stroke="#000" stroke-width="0.2">2.0</text>
<text x="138.40" y="645.60" font-family="'DejaVu Sans', sans-serif" font-size="13.2" font-weight="normal" text-anchor="middle">✖</text>
<text x="144.00" y="644.20" font-family="'Liberation Sans', Arial, sans-serif" font-size="9.6" font-weight="bold" text-anchor="start" letter-spacing="1.9" stroke="#000" stroke-width="0.2">10</text>
<text x="159.90" y="640.60" font-family="'Liberation Sans', Arial, sans-serif" font-size="6.3" font-weight="bold" text-anchor="start" stroke="#000" stroke-width="0.2">7</text>
<line x1="166.50" y1="685.40" x2="171.50" y2="685.40" stroke="#000" stroke-width="1.8" stroke-linecap="butt"/>
<text x="116.00" y="689.60" font-family="'Liberation Sans', Arial, sans-serif" font-size="9.6" font-weight="bold" text-anchor="start" letter-spacing="1.65" stroke="#000" stroke-width="0.2">1.5</text>
<text x="138.40" y="691.00" font-family="'DejaVu Sans', sans-serif" font-size="13.2" font-weight="normal" text-anchor="middle">✖</text>
<text x="144.00" y="689.60" font-family="'Liberation Sans', Arial, sans-serif" font-size="9.6" font-weight="bold" text-anchor="start" letter-spacing="1.9" stroke="#000" stroke-width="0.2">10</text>
<text x="159.90" y="686.00" font-family="'Liberation Sans', Arial, sans-serif" font-size="6.3" font-weight="bold" text-anchor="start" stroke="#000" stroke-width="0.2">7</text>
<line x1="166.50" y1="730.80" x2="171.50" y2="730.80" stroke="#000" stroke-width="1.8" stroke-linecap="butt"/>
<text x="116.00" y="735.00" font-family="'Liberation Sans', Arial, sans-serif" font-size="9.6" font-weight="bold" text-anchor="start" letter-spacing="1.65" stroke="#000" stroke-width="0.2">1.0</text>
<text x="138.40" y="736.40" font-family="'DejaVu Sans', sans-serif" font-size="13.2" font-weight="normal" text-anchor="middle">✖</text>
<text x="144.00" y="735.00" font-family="'Liberation Sans', Arial, sans-serif" font-size="9.6" font-weight="bold" text-anchor="start" letter-spacing="1.9" stroke="#000" stroke-width="0.2">10</text>
<text x="159.90" y="731.40" font-family="'Liberation Sans', Arial, sans-serif" font-size="6.3" font-weight="bold" text-anchor="start" stroke="#000" stroke-width="0.2">7</text>
<line x1="166.50" y1="776.20" x2="171.50" y2="776.20" stroke="#000" stroke-width="1.8" stroke-linecap="butt"/>
<text x="116.00" y="780.40" font-family="'Liberation Sans', Arial, sans-serif" font-size="9.6" font-weight="bold" text-anchor="start" letter-spacing="1.65" stroke="#000" stroke-width="0.2">5.0</text>
<text x="138.40" y="781.80" font-family="'DejaVu Sans', sans-serif" font-size="13.2" font-weight="normal" text-anchor="middle">✖</text>
<text x="144.00" y="780.40" font-family="'Liberation Sans', Arial, sans-serif" font-size="9.6" font-weight="bold" text-anchor="start" letter-spacing="1.9" stroke="#000" stroke-width="0.2">10</text>
<text x="159.90" y="776.80" font-family="'Liberation Sans', Arial, sans-serif" font-size="6.3" font-weight="bold" text-anchor="start" stroke="#000" stroke-width="0.2">6</text>
<text transform="translate(93.3 795.2) rotate(-90) scale(0.935 1)" font-family="'Liberation Sans', Arial, sans-serif" font-size="24.6" text-anchor="middle">CFU/ml</text>
<text x="0.70" y="622.20" font-family="'Liberation Sans', Arial, sans-serif" font-size="35.3" font-weight="bold" text-anchor="start">b</text>
<rect x="175.80" y="1038.90" width="21.60" height="0.80" fill="#a09fa4" stroke="#000" stroke-width="2.0"/>
<path d="M181.00 1034.00L184.50 1037.50L181.00 1041.00L177.50 1037.50Z" fill="#000"/>
<path d="M186.60 1035.50L190.10 1039.00L186.60 1042.50L183.10 1039.00Z" fill="#000"/>
<path d="M192.00 1034.50L195.50 1038.00L192.00 1041.50L188.50 1038.00Z" fill="#000"/>
<line x1="186.60" y1="1039.70" x2="186.60" y2="1044.70" stroke="#000" stroke-width="1.6" stroke-linecap="butt"/>
<text x="187.80" y="1054.90" font-family="'Liberation Sans', Arial, sans-serif" font-size="9.6" font-weight="bold" text-anchor="end" letter-spacing="1.95" transform="rotate(-45 187.80 1054.90)" dx="1.95" stroke="#000" stroke-width="0.2">14320</text>
<rect x="202.33" y="1018.40" width="21.60" height="21.30" fill="#a09fa4" stroke="#000" stroke-width="2.0"/>
<line x1="213.13" y1="1006.00" x2="213.13" y2="1029.60" stroke="#000" stroke-width="2.2" stroke-linecap="butt"/>
<line x1="208.13" y1="1006.00" x2="218.13" y2="1006.00" stroke="#000" stroke-width="2.2" stroke-linecap="butt"/>
<line x1="208.13" y1="1029.60" x2="218.13" y2="1029.60" stroke="#000" stroke-width="2.2" stroke-linecap="butt"/>
<path d="M213.00 1001.20L216.50 1004.70L213.00 1008.20L209.50 1004.70Z" fill="#000"/>
<path d="M207.50 1023.30L211.00 1026.80L207.50 1030.30L204.00 1026.80Z" fill="#000"/>
<path d="M218.70 1019.10L222.20 1022.60L218.70 1026.10L215.20 1022.60Z" fill="#000"/>
<line x1="213.13" y1="1039.70" x2="213.13" y2="1044.70" stroke="#000" stroke-width="1.6" stroke-linecap="butt"/>
<text x="214.33" y="1054.90" font-family="'Liberation Sans', Arial, sans-serif" font-size="9.6" font-weight="bold" text-anchor="end" letter-spacing="1.95" transform="rotate(-45 214.33 1054.90)" dx="1.95" stroke="#000" stroke-width="0.2">13526</text>
<rect x="228.86" y="1037.90" width="21.60" height="1.80" fill="#a09fa4" stroke="#000" stroke-width="2.0"/>
<path d="M234.00 1033.00L237.50 1036.50L234.00 1040.00L230.50 1036.50Z" fill="#000"/>
<path d="M239.70 1034.50L243.20 1038.00L239.70 1041.50L236.20 1038.00Z" fill="#000"/>
<path d="M245.00 1034.00L248.50 1037.50L245.00 1041.00L241.50 1037.50Z" fill="#000"/>
<line x1="239.66" y1="1039.70" x2="239.66" y2="1044.70" stroke="#000" stroke-width="1.6" stroke-linecap="butt"/>
<text x="240.86" y="1054.90" font-family="'Liberation Sans', Arial, sans-serif" font-size="9.6" font-weight="bold" text-anchor="end" letter-spacing="1.95" transform="rotate(-45 240.86 1054.90)" dx="1.95" stroke="#000" stroke-width="0.2">14660</text>
<rect x="255.39" y="1031.20" width="21.60" height="8.50" fill="#a09fa4" stroke="#000" stroke-width="2.0"/>
<line x1="266.19" y1="1024.90" x2="266.19" y2="1037.40" stroke="#000" stroke-width="1.6" stroke-linecap="butt"/>
<line x1="261.19" y1="1024.90" x2="271.19" y2="1024.90" stroke="#000" stroke-width="1.6" stroke-linecap="butt"/>
<line x1="261.19" y1="1037.40" x2="271.19" y2="1037.40" stroke="#000" stroke-width="1.6" stroke-linecap="butt"/>
<path d="M266.20 1020.80L269.70 1024.30L266.20 1027.80L262.70 1024.30Z" fill="#000"/>
<path d="M261.00 1032.50L264.50 1036.00L261.00 1039.50L257.50 1036.00Z" fill="#000"/>
<path d="M271.50 1029.20L275.00 1032.70L271.50 1036.20L268.00 1032.70Z" fill="#000"/>
<line x1="266.19" y1="1039.70" x2="266.19" y2="1044.70" stroke="#000" stroke-width="1.6" stroke-linecap="butt"/>
<text x="267.39" y="1054.90" font-family="'Liberation Sans', Arial, sans-serif" font-size="9.6" font-weight="bold" text-anchor="end" letter-spacing="1.95" transform="rotate(-45 267.39 1054.90)" dx="1.95" stroke="#000" stroke-width="0.2">14313</text>
<rect x="281.92" y="1018.40" width="21.60" height="21.30" fill="#a09fa4" stroke="#000" stroke-width="2.0"/>
<line x1="292.72" y1="1006.00" x2="292.72" y2="1029.60" stroke="#000" stroke-width="2.2" stroke-linecap="butt"/>
<line x1="287.72" y1="1006.00" x2="297.72" y2="1006.00" stroke="#000" stroke-width="2.2" stroke-linecap="butt"/>
<line x1="287.72" y1="1029.60" x2="297.72" y2="1029.60" stroke="#000" stroke-width="2.2" stroke-linecap="butt"/>
<path d="M292.70 1001.20L296.20 1004.70L292.70 1008.20L289.20 1004.70Z" fill="#000"/>
<path d="M287.00 1023.30L290.50 1026.80L287.00 1030.30L283.50 1026.80Z" fill="#000"/>
<path d="M298.00 1019.10L301.50 1022.60L298.00 1026.10L294.50 1022.60Z" fill="#000"/>
<line x1="292.72" y1="1039.70" x2="292.72" y2="1044.70" stroke="#000" stroke-width="1.6" stroke-linecap="butt"/>
<text x="293.92" y="1054.90" font-family="'Liberation Sans', Arial, sans-serif" font-size="9.6" font-weight="bold" text-anchor="end" letter-spacing="1.95" transform="rotate(-45 293.92 1054.90)" dx="1.95" stroke="#000" stroke-width="0.2">13801</text>
<rect x="308.45" y="1019.80" width="21.60" height="19.90" fill="#a09fa4" stroke="#000" stroke-width="2.0"/>
<line x1="319.25" y1="1018.00" x2="319.25" y2="1020.60" stroke="#000" stroke-width="1.6" stroke-linecap="butt"/>
<line x1="314.25" y1="1018.00" x2="324.25" y2="1018.00" stroke="#000" stroke-width="1.6" stroke-linecap="butt"/>
<line x1="314.25" y1="1020.60" x2="324.25" y2="1020.60" stroke="#000" stroke-width="1.6" stroke-linecap="butt"/>
<path d="M313.70 1013.80L317.20 1017.30L313.70 1020.80L310.20 1017.30Z" fill="#000"/>
<path d="M319.30 1016.50L322.80 1020.00L319.30 1023.50L315.80 1020.00Z" fill="#000"/>
<path d="M325.00 1015.50L328.50 1019.00L325.00 1022.50L321.50 1019.00Z" fill="#000"/>
<line x1="319.25" y1="1039.70" x2="319.25" y2="1044.70" stroke="#000" stroke-width="1.6" stroke-linecap="butt"/>
<text x="320.45" y="1054.90" font-family="'Liberation Sans', Arial, sans-serif" font-size="9.6" font-weight="bold" text-anchor="end" letter-spacing="1.95" transform="rotate(-45 320.45 1054.90)" dx="1.95" stroke="#000" stroke-width="0.2">14731</text>
<rect x="334.98" y="961.10" width="21.60" height="78.60" fill="#a09fa4" stroke="#000" stroke-width="2.0"/>
<line x1="345.78" y1="928.00" x2="345.78" y2="993.60" stroke="#000" stroke-width="1.6" stroke-linecap="butt"/>
<line x1="340.78" y1="928.00" x2="350.78" y2="928.00" stroke="#000" stroke-width="1.6" stroke-linecap="butt"/>
<line x1="340.78" y1="993.60" x2="350.78" y2="993.60" stroke="#000" stroke-width="1.6" stroke-linecap="butt"/>
<path d="M345.80 928.30L349.30 931.80L345.80 935.30L342.30 931.80Z" fill="#000"/>
<path d="M345.80 950.10L349.30 953.60L345.80 957.10L342.30 953.60Z" fill="#000"/>
<path d="M345.80 993.50L349.30 997.00L345.80 1000.50L342.30 997.00Z" fill="#000"/>
<line x1="345.78" y1="1039.70" x2="345.78" y2="1044.70" stroke="#000" stroke-width="1.6" stroke-linecap="butt"/>
<text x="346.98" y="1054.90" font-family="'Liberation Sans', Arial, sans-serif" font-size="9.6" font-weight="bold" text-anchor="end" letter-spacing="1.95" transform="rotate(-45 346.98 1054.90)" dx="1.95" stroke="#000" stroke-width="0.2">14682</text>
<rect x="398.40" y="1021.70" width="21.60" height="18.00" fill="#fff" stroke="#000" stroke-width="2.0"/>
<line x1="409.20" y1="1015.60" x2="409.20" y2="1026.80" stroke="#000" stroke-width="1.6" stroke-linecap="butt"/>
<line x1="404.20" y1="1015.60" x2="414.20" y2="1015.60" stroke="#000" stroke-width="1.6" stroke-linecap="butt"/>
<line x1="404.20" y1="1026.80" x2="414.20" y2="1026.80" stroke="#000" stroke-width="1.6" stroke-linecap="butt"/>
<path d="M409.20 1010.70L412.70 1014.20L409.20 1017.70L405.70 1014.20Z" fill="#000"/>
<path d="M404.00 1021.40L407.50 1024.90L404.00 1028.40L400.50 1024.90Z" fill="#000"/>
<path d="M415.00 1020.00L418.50 1023.50L415.00 1027.00L411.50 1023.50Z" fill="#000"/>
<line x1="409.20" y1="1039.70" x2="409.20" y2="1044.70" stroke="#000" stroke-width="1.6" stroke-linecap="butt"/>
<text x="410.40" y="1054.90" font-family="'Liberation Sans', Arial, sans-serif" font-size="9.6" font-weight="bold" text-anchor="end" letter-spacing="1.95" transform="rotate(-45 410.40 1054.90)" dx="1.95" stroke="#000" stroke-width="0.2">3478</text>
<rect x="425.13" y="984.00" width="21.60" height="55.70" fill="#fff" stroke="#000" stroke-width="2.0"/>
<line x1="435.93" y1="978.00" x2="435.93" y2="990.00" stroke="#000" stroke-width="1.6" stroke-linecap="butt"/>
<line x1="430.93" y1="978.00" x2="440.93" y2="978.00" stroke="#000" stroke-width="1.6" stroke-linecap="butt"/>
<line x1="430.93" y1="990.00" x2="440.93" y2="990.00" stroke="#000" stroke-width="1.6" stroke-linecap="butt"/>
<path d="M436.00 973.30L439.50 976.80L436.00 980.30L432.50 976.80Z" fill="#000"/>
<path d="M430.60 987.30L434.10 990.80L430.60 994.30L427.10 990.80Z" fill="#000"/>
<path d="M442.00 979.50L445.50 983.00L442.00 986.50L438.50 983.00Z" fill="#000"/>
<line x1="435.93" y1="1039.70" x2="435.93" y2="1044.70" stroke="#000" stroke-width="1.6" stroke-linecap="butt"/>
<text x="437.13" y="1054.90" font-family="'Liberation Sans', Arial, sans-serif" font-size="9.6" font-weight="bold" text-anchor="end" letter-spacing="1.95" transform="rotate(-45 437.13 1054.90)" dx="1.95" stroke="#000" stroke-width="0.2">14346</text>
<rect x="451.86" y="1037.90" width="21.60" height="1.80" fill="#fff" stroke="#000" stroke-width="2.0"/>
<path d="M457.00 1033.50L460.50 1037.00L457.00 1040.50L453.50 1037.00Z" fill="#000"/>
<path d="M462.60 1034.50L466.10 1038.00L462.60 1041.50L459.10 1038.00Z" fill="#000"/>
<path d="M468.00 1034.00L471.50 1037.50L468.00 1041.00L464.50 1037.50Z" fill="#000"/>
<line x1="462.66" y1="1039.70" x2="462.66" y2="1044.70" stroke="#000" stroke-width="1.6" stroke-linecap="butt"/>
<text x="463.86" y="1054.90" font-family="'Liberation Sans', Arial, sans-serif" font-size="9.6" font-weight="bold" text-anchor="end" letter-spacing="1.95" transform="rotate(-45 463.86 1054.90)" dx="1.95" stroke="#000" stroke-width="0.2">14636</text>
<rect x="478.59" y="1015.50" width="21.60" height="24.20" fill="#fff" stroke="#000" stroke-width="2.0"/>
<line x1="489.39" y1="994.00" x2="489.39" y2="1036.00" stroke="#000" stroke-width="1.6" stroke-linecap="butt"/>
<line x1="484.39" y1="994.00" x2="494.39" y2="994.00" stroke="#000" stroke-width="1.6" stroke-linecap="butt"/>
<line x1="484.39" y1="1036.00" x2="494.39" y2="1036.00" stroke="#000" stroke-width="1.6" stroke-linecap="butt"/>
<path d="M484.00 997.10L487.50 1000.60L484.00 1004.10L480.50 1000.60Z" fill="#000"/>
<path d="M494.40 1001.80L497.90 1005.30L494.40 1008.80L490.90 1005.30Z" fill="#000"/>
<path d="M489.40 1035.30L492.90 1038.80L489.40 1042.30L485.90 1038.80Z" fill="#000"/>
<line x1="489.39" y1="1039.70" x2="489.39" y2="1044.70" stroke="#000" stroke-width="1.6" stroke-linecap="butt"/>
<text x="490.59" y="1054.90" font-family="'Liberation Sans', Arial, sans-serif" font-size="9.6" font-weight="bold" text-anchor="end" letter-spacing="1.95" transform="rotate(-45 490.59 1054.90)" dx="1.95" stroke="#000" stroke-width="0.2">14671</text>
<rect x="542.20" y="685.00" width="21.60" height="354.70" fill="#c1b47c" stroke="#000" stroke-width="2.0"/>
<rect x="568.72" y="809.00" width="21.60" height="230.70" fill="#c1b47c" stroke="#000" stroke-width="2.0"/>
<rect x="595.24" y="813.90" width="21.60" height="225.80" fill="#c1b47c" stroke="#000" stroke-width="2.0"/>
<rect x="621.76" y="781.40" width="21.60" height="258.30" fill="#c1b47c" stroke="#000" stroke-width="2.0"/>
<rect x="648.28" y="801.80" width="21.60" height="237.90" fill="#c1b47c" stroke="#000" stroke-width="2.0"/>
<rect x="674.80" y="806.00" width="21.60" height="233.70" fill="#c1b47c" stroke="#000" stroke-width="2.0"/>
<rect x="701.32" y="786.30" width="21.60" height="253.40" fill="#c1b47c" stroke="#000" stroke-width="2.0"/>
<rect x="727.84" y="793.50" width="21.60" height="246.20" fill="#c1b47c" stroke="#000" stroke-width="2.0"/>
<rect x="754.36" y="799.50" width="21.60" height="240.20" fill="#c1b47c" stroke="#000" stroke-width="2.0"/>
<rect x="780.88" y="807.60" width="21.60" height="232.10" fill="#c1b47c" stroke="#000" stroke-width="2.0"/>
<line x1="540.50" y1="822.50" x2="804.50" y2="822.50" stroke="#fff" stroke-width="4.4" stroke-linecap="butt"/>
<line x1="553.00" y1="658.00" x2="553.00" y2="713.00" stroke="#000" stroke-width="1.6" stroke-linecap="butt"/>
<line x1="548.00" y1="658.00" x2="558.00" y2="658.00" stroke="#000" stroke-width="1.6" stroke-linecap="butt"/>
<line x1="548.00" y1="713.00" x2="558.00" y2="713.00" stroke="#000" stroke-width="1.6" stroke-linecap="butt"/>
<path d="M553.00 654.70L556.30 658.00L553.00 661.30L549.70 658.00Z" fill="#000"/>
<path d="M553.00 681.70L556.30 685.00L553.00 688.30L549.70 685.00Z" fill="#000"/>
<path d="M553.00 709.70L556.30 713.00L553.00 716.30L549.70 713.00Z" fill="#000"/>
<line x1="553.00" y1="1039.70" x2="553.00" y2="1044.70" stroke="#000" stroke-width="1.6" stroke-linecap="butt"/>
<text x="554.20" y="1054.90" font-family="'Liberation Sans', Arial, sans-serif" font-size="9.6" font-weight="bold" text-anchor="end" letter-spacing="1.95" transform="rotate(-45 554.20 1054.90)" dx="1.95" stroke="#000" stroke-width="0.2">7040</text>
<line x1="579.52" y1="800.00" x2="579.52" y2="819.30" stroke="#000" stroke-width="1.6" stroke-linecap="butt"/>
<line x1="574.52" y1="800.00" x2="584.52" y2="800.00" stroke="#000" stroke-width="1.6" stroke-linecap="butt"/>
<line x1="574.52" y1="819.30" x2="584.52" y2="819.30" stroke="#000" stroke-width="1.6" stroke-linecap="butt"/>
<path d="M574.50 798.70L577.80 802.00L574.50 805.30L571.20 802.00Z" fill="#000"/>
<path d="M585.00 802.50L588.30 805.80L585.00 809.10L581.70 805.80Z" fill="#000"/>
<path d="M579.50 816.50L582.80 819.80L579.50 823.10L576.20 819.80Z" fill="#000"/>
<line x1="579.52" y1="1039.70" x2="579.52" y2="1044.70" stroke="#000" stroke-width="1.6" stroke-linecap="butt"/>
<text x="580.72" y="1054.90" font-family="'Liberation Sans', Arial, sans-serif" font-size="9.6" font-weight="bold" text-anchor="end" letter-spacing="1.95" transform="rotate(-45 580.72 1054.90)" dx="1.95" stroke="#000" stroke-width="0.2">13863</text>
<line x1="606.04" y1="809.40" x2="606.04" y2="819.30" stroke="#000" stroke-width="1.6" stroke-linecap="butt"/>
<line x1="601.04" y1="809.40" x2="611.04" y2="809.40" stroke="#000" stroke-width="1.6" stroke-linecap="butt"/>
<line x1="601.04" y1="819.30" x2="611.04" y2="819.30" stroke="#000" stroke-width="1.6" stroke-linecap="butt"/>
<path d="M606.00 805.70L609.30 809.00L606.00 812.30L602.70 809.00Z" fill="#000"/>
<path d="M611.00 808.70L614.30 812.00L611.00 815.30L607.70 812.00Z" fill="#000"/>
<path d="M600.60 816.70L603.90 820.00L600.60 823.30L597.30 820.00Z" fill="#000"/>
<line x1="606.04" y1="1039.70" x2="606.04" y2="1044.70" stroke="#000" stroke-width="1.6" stroke-linecap="butt"/>
<text x="607.24" y="1054.90" font-family="'Liberation Sans', Arial, sans-serif" font-size="9.6" font-weight="bold" text-anchor="end" letter-spacing="1.95" transform="rotate(-45 607.24 1054.90)" dx="1.95" stroke="#000" stroke-width="0.2">13862</text>
<line x1="632.56" y1="778.70" x2="632.56" y2="784.00" stroke="#000" stroke-width="1.6" stroke-linecap="butt"/>
<line x1="627.56" y1="778.70" x2="637.56" y2="778.70" stroke="#000" stroke-width="1.6" stroke-linecap="butt"/>
<line x1="627.56" y1="784.00" x2="637.56" y2="784.00" stroke="#000" stroke-width="1.6" stroke-linecap="butt"/>
<path d="M627.00 775.10L630.30 778.40L627.00 781.70L623.70 778.40Z" fill="#000"/>
<path d="M637.00 776.70L640.30 780.00L637.00 783.30L633.70 780.00Z" fill="#000"/>
<path d="M632.50 781.70L635.80 785.00L632.50 788.30L629.20 785.00Z" fill="#000"/>
<line x1="632.56" y1="1039.70" x2="632.56" y2="1044.70" stroke="#000" stroke-width="1.6" stroke-linecap="butt"/>
<text x="633.76" y="1054.90" font-family="'Liberation Sans', Arial, sans-serif" font-size="9.6" font-weight="bold" text-anchor="end" letter-spacing="1.95" transform="rotate(-45 633.76 1054.90)" dx="1.95" stroke="#000" stroke-width="0.2">14669</text>
<line x1="659.08" y1="800.50" x2="659.08" y2="803.00" stroke="#000" stroke-width="1.6" stroke-linecap="butt"/>
<line x1="654.08" y1="800.50" x2="664.08" y2="800.50" stroke="#000" stroke-width="1.6" stroke-linecap="butt"/>
<line x1="654.08" y1="803.00" x2="664.08" y2="803.00" stroke="#000" stroke-width="1.6" stroke-linecap="butt"/>
<path d="M653.50 796.20L656.80 799.50L653.50 802.80L650.20 799.50Z" fill="#000"/>
<path d="M659.00 800.70L662.30 804.00L659.00 807.30L655.70 804.00Z" fill="#000"/>
<path d="M664.50 797.70L667.80 801.00L664.50 804.30L661.20 801.00Z" fill="#000"/>
<line x1="659.08" y1="1039.70" x2="659.08" y2="1044.70" stroke="#000" stroke-width="1.6" stroke-linecap="butt"/>
<text x="660.28" y="1054.90" font-family="'Liberation Sans', Arial, sans-serif" font-size="9.6" font-weight="bold" text-anchor="end" letter-spacing="1.95" transform="rotate(-45 660.28 1054.90)" dx="1.95" stroke="#000" stroke-width="0.2">5166</text>
<line x1="685.60" y1="803.60" x2="685.60" y2="808.50" stroke="#000" stroke-width="1.6" stroke-linecap="butt"/>
<line x1="680.60" y1="803.60" x2="690.60" y2="803.60" stroke="#000" stroke-width="1.6" stroke-linecap="butt"/>
<line x1="680.60" y1="808.50" x2="690.60" y2="808.50" stroke="#000" stroke-width="1.6" stroke-linecap="butt"/>
<path d="M680.00 799.70L683.30 803.00L680.00 806.30L676.70 803.00Z" fill="#000"/>
<path d="M685.50 806.10L688.80 809.40L685.50 812.70L682.20 809.40Z" fill="#000"/>
<path d="M691.00 804.30L694.30 807.60L691.00 810.90L687.70 807.60Z" fill="#000"/>
<line x1="685.60" y1="1039.70" x2="685.60" y2="1044.70" stroke="#000" stroke-width="1.6" stroke-linecap="butt"/>
<text x="686.80" y="1054.90" font-family="'Liberation Sans', Arial, sans-serif" font-size="9.6" font-weight="bold" text-anchor="end" letter-spacing="1.95" transform="rotate(-45 686.80 1054.90)" dx="1.95" stroke="#000" stroke-width="0.2">7034</text>
<line x1="712.12" y1="779.60" x2="712.12" y2="793.50" stroke="#000" stroke-width="1.6" stroke-linecap="butt"/>
<line x1="707.12" y1="779.60" x2="717.12" y2="779.60" stroke="#000" stroke-width="1.6" stroke-linecap="butt"/>
<line x1="707.12" y1="793.50" x2="717.12" y2="793.50" stroke="#000" stroke-width="1.6" stroke-linecap="butt"/>
<path d="M712.00 776.00L715.30 779.30L712.00 782.60L708.70 779.30Z" fill="#000"/>
<path d="M717.50 781.40L720.80 784.70L717.50 788.00L714.20 784.70Z" fill="#000"/>
<path d="M707.00 791.10L710.30 794.40L707.00 797.70L703.70 794.40Z" fill="#000"/>
<line x1="712.12" y1="1039.70" x2="712.12" y2="1044.70" stroke="#000" stroke-width="1.6" stroke-linecap="butt"/>
<text x="713.32" y="1054.90" font-family="'Liberation Sans', Arial, sans-serif" font-size="9.6" font-weight="bold" text-anchor="end" letter-spacing="1.95" transform="rotate(-45 713.32 1054.90)" dx="1.95" stroke="#000" stroke-width="0.2">11271</text>
<line x1="738.64" y1="785.60" x2="738.64" y2="800.40" stroke="#000" stroke-width="1.6" stroke-linecap="butt"/>
<line x1="733.64" y1="785.60" x2="743.64" y2="785.60" stroke="#000" stroke-width="1.6" stroke-linecap="butt"/>
<line x1="733.64" y1="800.40" x2="743.64" y2="800.40" stroke="#000" stroke-width="1.6" stroke-linecap="butt"/>
<path d="M738.00 781.40L741.30 784.70L738.00 788.00L734.70 784.70Z" fill="#000"/>
<path d="M743.50 792.00L746.80 795.30L743.50 798.60L740.20 795.30Z" fill="#000"/>
<path d="M732.50 796.20L735.80 799.50L732.50 802.80L729.20 799.50Z" fill="#000"/>
<line x1="738.64" y1="1039.70" x2="738.64" y2="1044.70" stroke="#000" stroke-width="1.6" stroke-linecap="butt"/>
<text x="739.84" y="1054.90" font-family="'Liberation Sans', Arial, sans-serif" font-size="9.6" font-weight="bold" text-anchor="end" letter-spacing="1.95" transform="rotate(-45 739.84 1054.90)" dx="1.95" stroke="#000" stroke-width="0.2">13193</text>
<line x1="765.16" y1="783.20" x2="765.16" y2="818.40" stroke="#000" stroke-width="1.6" stroke-linecap="butt"/>
<line x1="760.16" y1="783.20" x2="770.16" y2="783.20" stroke="#000" stroke-width="1.6" stroke-linecap="butt"/>
<line x1="760.16" y1="818.40" x2="770.16" y2="818.40" stroke="#000" stroke-width="1.6" stroke-linecap="butt"/>
<path d="M759.50 783.50L762.80 786.80L759.50 790.10L756.20 786.80Z" fill="#000"/>
<path d="M770.50 790.40L773.80 793.70L770.50 797.00L767.20 793.70Z" fill="#000"/>
<path d="M765.00 815.70L768.30 819.00L765.00 822.30L761.70 819.00Z" fill="#000"/>
<line x1="765.16" y1="1039.70" x2="765.16" y2="1044.70" stroke="#000" stroke-width="1.6" stroke-linecap="butt"/>
<text x="766.36" y="1054.90" font-family="'Liberation Sans', Arial, sans-serif" font-size="9.6" font-weight="bold" text-anchor="end" letter-spacing="1.95" transform="rotate(-45 766.36 1054.90)" dx="1.95" stroke="#000" stroke-width="0.2">14657</text>
<line x1="791.68" y1="806.50" x2="791.68" y2="809.00" stroke="#000" stroke-width="1.6" stroke-linecap="butt"/>
<line x1="786.68" y1="806.50" x2="796.68" y2="806.50" stroke="#000" stroke-width="1.6" stroke-linecap="butt"/>
<line x1="786.68" y1="809.00" x2="796.68" y2="809.00" stroke="#000" stroke-width="1.6" stroke-linecap="butt"/>
<path d="M786.00 802.10L789.30 805.40L786.00 808.70L782.70 805.40Z" fill="#000"/>
<path d="M791.50 805.70L794.80 809.00L791.50 812.30L788.20 809.00Z" fill="#000"/>
<path d="M797.00 805.20L800.30 808.50L797.00 811.80L793.70 808.50Z" fill="#000"/>
<line x1="791.68" y1="1039.70" x2="791.68" y2="1044.70" stroke="#000" stroke-width="1.6" stroke-linecap="butt"/>
<text x="792.88" y="1054.90" font-family="'Liberation Sans', Arial, sans-serif" font-size="9.6" font-weight="bold" text-anchor="end" letter-spacing="1.95" transform="rotate(-45 792.88 1054.90)" dx="1.95" stroke="#000" stroke-width="0.2">3274</text>
<line x1="149.00" y1="1088.60" x2="339.50" y2="1088.60" stroke="#000" stroke-width="3.0" stroke-linecap="butt"/>
<line x1="371.00" y1="1088.60" x2="520.00" y2="1088.60" stroke="#000" stroke-width="3.0" stroke-linecap="butt"/>
<line x1="532.00" y1="1088.60" x2="803.50" y2="1088.60" stroke="#000" stroke-width="3.0" stroke-linecap="butt"/>
<text x="252.60" y="1106.80" font-family="'Liberation Sans', Arial, sans-serif" font-size="13.75" font-weight="normal" text-anchor="middle">Presumptive Hypervirulent</text>
<text x="449.30" y="1106.80" font-family="'Liberation Sans', Arial, sans-serif" font-size="13.75" font-weight="normal" text-anchor="middle">Hypermucoviscous-like</text>
<text x="672.00" y="1109.00" font-family="'Liberation Sans', Arial, sans-serif" font-size="13.75" font-weight="normal" text-anchor="middle">Classical MDR</text>
<polyline points="177.50,1010.00 177.50,989.30 329.50,989.30 329.50,1010.00" fill="none" stroke="#000" stroke-width="2.7" stroke-linejoin="miter"/>
<polyline points="258.40,989.00 258.40,616.00 781.30,616.00 781.30,754.00" fill="none" stroke="#000" stroke-width="2.6" stroke-linejoin="miter"/>
<line x1="622.00" y1="616.00" x2="622.00" y2="643.60" stroke="#000" stroke-width="2.6" stroke-linecap="butt"/>
<polyline points="534.00,665.20 534.00,643.60 702.00,643.60 702.00,665.20" fill="none" stroke="#000" stroke-width="2.6" stroke-linejoin="miter"/>
<polyline points="746.50,754.00 806.30,754.00 806.30,777.50" fill="none" stroke="#000" stroke-width="2.6" stroke-linejoin="miter"/>
<polyline points="399.50,978.50 399.50,956.20 499.40,956.20 499.40,978.50" fill="none" stroke="#0a1cf5" stroke-width="2.5" stroke-linejoin="miter"/>
<polyline points="451.40,956.20 451.40,634.30 774.80,634.30 774.80,754.00" fill="none" stroke="#0a1cf5" stroke-width="2.5" stroke-linejoin="miter"/>
<line x1="616.50" y1="634.30" x2="616.50" y2="643.60" stroke="#0a1cf5" stroke-width="2.5" stroke-linecap="butt"/>
<text x="372.30" y="619.80" font-family="'Liberation Sans', Arial, sans-serif" font-size="11" font-weight="bold" text-anchor="middle" letter-spacing="1.4">***</text>
<text x="369.30" y="626.40" font-family="'Liberation Sans', Arial, sans-serif" font-size="6.6" font-weight="bold" text-anchor="middle" letter-spacing="1.35" stroke="#000" stroke-width="0.2">p = 0.0008</text>
<text x="712.90" y="637.60" font-family="'Liberation Sans', Arial, sans-serif" font-size="11" font-weight="bold" text-anchor="middle" letter-spacing="1.4">***</text>
<text x="712.60" y="642.40" font-family="'Liberation Sans', Arial, sans-serif" font-size="6.6" font-weight="bold" text-anchor="middle" letter-spacing="1.35" stroke="#000" stroke-width="0.2">p = 0.0009</text>
</g><g id="panel-c">
<text x="1095.30" y="66.20" font-family="'Liberation Sans', Arial, sans-serif" font-size="35.3" font-weight="bold" text-anchor="start">c</text>
<g transform="translate(1190.7 198.2) scale(1.05907 1)">
<rect x="0.09" y="0.00" width="101.69" height="102.26" fill="none" stroke="#c4c4c6" stroke-width="1.5"/>
<rect x="0.09" y="102.26" width="101.69" height="102.26" fill="none" stroke="#c4c4c6" stroke-width="1.5"/>
<rect x="101.79" y="102.26" width="101.88" height="102.26" fill="none" stroke="#c4c4c6" stroke-width="1.5"/>
<rect x="0.09" y="204.52" width="101.69" height="102.26" fill="none" stroke="#c4c4c6" stroke-width="1.5"/>
<rect x="101.79" y="204.52" width="101.88" height="102.26" fill="none" stroke="#c4c4c6" stroke-width="1.5"/>
<rect x="203.67" y="204.52" width="101.79" height="102.26" fill="none" stroke="#c4c4c6" stroke-width="1.5"/>
<rect x="0.09" y="306.78" width="101.69" height="102.26" fill="none" stroke="#c4c4c6" stroke-width="1.5"/>
<rect x="101.79" y="306.78" width="101.88" height="102.26" fill="none" stroke="#c4c4c6" stroke-width="1.5"/>
<rect x="203.67" y="306.78" width="101.79" height="102.26" fill="none" stroke="#c4c4c6" stroke-width="1.5"/>
<rect x="305.46" y="306.78" width="102.45" height="102.26" fill="none" stroke="#c4c4c6" stroke-width="1.5"/>
<rect x="0.09" y="409.04" width="101.69" height="102.26" fill="none" stroke="#c4c4c6" stroke-width="1.5"/>
<rect x="101.79" y="409.04" width="101.88" height="102.26" fill="none" stroke="#c4c4c6" stroke-width="1.5"/>
<rect x="203.67" y="409.04" width="101.79" height="102.26" fill="none" stroke="#c4c4c6" stroke-width="1.5"/>
<rect x="305.46" y="409.04" width="102.45" height="102.26" fill="none" stroke="#c4c4c6" stroke-width="1.5"/>
<rect x="407.91" y="409.04" width="103.02" height="102.26" fill="none" stroke="#c4c4c6" stroke-width="1.5"/>
<rect x="0.09" y="511.30" width="101.69" height="102.26" fill="none" stroke="#c4c4c6" stroke-width="1.5"/>
<rect x="101.79" y="511.30" width="101.88" height="102.26" fill="none" stroke="#c4c4c6" stroke-width="1.5"/>
<rect x="203.67" y="511.30" width="101.79" height="102.26" fill="none" stroke="#c4c4c6" stroke-width="1.5"/>
<rect x="305.46" y="511.30" width="102.45" height="102.26" fill="none" stroke="#c4c4c6" stroke-width="1.5"/>
<rect x="407.91" y="511.30" width="103.02" height="102.26" fill="none" stroke="#c4c4c6" stroke-width="1.5"/>
<rect x="510.92" y="511.30" width="102.54" height="102.26" fill="none" stroke="#c4c4c6" stroke-width="1.5"/>
<rect x="0.09" y="613.56" width="101.69" height="102.26" fill="none" stroke="#c4c4c6" stroke-width="1.5"/>
<rect x="101.79" y="613.56" width="101.88" height="102.26" fill="none" stroke="#c4c4c6" stroke-width="1.5"/>
<rect x="203.67" y="613.56" width="101.79" height="102.26" fill="none" stroke="#c4c4c6" stroke-width="1.5"/>
<rect x="305.46" y="613.56" width="102.45" height="102.26" fill="none" stroke="#c4c4c6" stroke-width="1.5"/>
<rect x="407.91" y="613.56" width="103.02" height="102.26" fill="none" stroke="#c4c4c6" stroke-width="1.5"/>
<rect x="510.92" y="613.56" width="102.54" height="102.26" fill="none" stroke="#c4c4c6" stroke-width="1.5"/>
<rect x="613.47" y="613.56" width="102.45" height="102.26" fill="none" stroke="#c4c4c6" stroke-width="1.5"/>
<circle cx="50.94" cy="51.13" r="46.78" fill="#b8860b"/>
<text x="50.94" y="60.13" font-family="'Liberation Sans', Arial, sans-serif" font-size="24.6" font-weight="bold" text-anchor="middle">1</text>
<circle cx="50.94" cy="153.39" r="38.58" fill="#cca74e"/>
<text x="50.94" y="162.39" font-family="'Liberation Sans', Arial, sans-serif" font-size="24.6" font-weight="bold" text-anchor="middle">0.68</text>
<circle cx="152.73" cy="153.39" r="46.78" fill="#b8860b"/>
<text x="152.73" y="162.39" font-family="'Liberation Sans', Arial, sans-serif" font-size="24.6" font-weight="bold" text-anchor="middle">1</text>
<circle cx="50.94" cy="255.65" r="40.79" fill="#3535a3"/>
<text x="50.94" y="264.65" font-family="'Liberation Sans', Arial, sans-serif" font-size="24.6" font-weight="bold" text-anchor="middle">-0.76</text>
<circle cx="152.73" cy="255.65" r="39.14" fill="#4646ab"/>
<text x="152.73" y="264.65" font-family="'Liberation Sans', Arial, sans-serif" font-size="24.6" font-weight="bold" text-anchor="middle">-0.7</text>
<circle cx="254.56" cy="255.65" r="46.78" fill="#b8860b"/>
<text x="254.56" y="264.65" font-family="'Liberation Sans', Arial, sans-serif" font-size="24.6" font-weight="bold" text-anchor="middle">1</text>
<circle cx="50.94" cy="357.91" r="44.14" fill="#121293"/>
<text x="50.94" y="366.91" font-family="'Liberation Sans', Arial, sans-serif" font-size="24.6" font-weight="bold" text-anchor="middle">-0.89</text>
<text x="50.94" y="344.31" font-family="'Liberation Sans', Arial, sans-serif" font-size="31" font-weight="bold" text-anchor="middle">*</text>
<circle cx="152.73" cy="357.91" r="36.84" fill="#5858b3"/>
<text x="152.73" y="366.91" font-family="'Liberation Sans', Arial, sans-serif" font-size="24.6" font-weight="bold" text-anchor="middle">-0.62</text>
<circle cx="254.56" cy="357.91" r="41.58" fill="#c79f3d"/>
<text x="254.56" y="366.91" font-family="'Liberation Sans', Arial, sans-serif" font-size="24.6" font-weight="bold" text-anchor="middle">0.79</text>
<text x="254.56" y="344.31" font-family="'Liberation Sans', Arial, sans-serif" font-size="31" font-weight="bold" text-anchor="middle">*</text>
<circle cx="356.68" cy="357.91" r="46.78" fill="#b8860b"/>
<text x="356.68" y="366.91" font-family="'Liberation Sans', Arial, sans-serif" font-size="24.6" font-weight="bold" text-anchor="middle">1</text>
<circle cx="50.94" cy="460.17" r="41.05" fill="#3535a3"/>
<text x="50.94" y="469.17" font-family="'Liberation Sans', Arial, sans-serif" font-size="24.6" font-weight="bold" text-anchor="middle">-0.77</text>
<text x="50.94" y="446.57" font-family="'Liberation Sans', Arial, sans-serif" font-size="31" font-weight="bold" text-anchor="middle">*</text>
<circle cx="152.73" cy="460.17" r="39.70" fill="#4646ab"/>
<text x="152.73" y="469.17" font-family="'Liberation Sans', Arial, sans-serif" font-size="24.6" font-weight="bold" text-anchor="middle">-0.72</text>
<circle cx="254.56" cy="460.17" r="42.11" fill="#c2972d"/>
<text x="254.56" y="469.17" font-family="'Liberation Sans', Arial, sans-serif" font-size="24.6" font-weight="bold" text-anchor="middle">0.81</text>
<text x="254.56" y="446.57" font-family="'Liberation Sans', Arial, sans-serif" font-size="31" font-weight="bold" text-anchor="middle">*</text>
<circle cx="356.68" cy="460.17" r="40.79" fill="#c79f3d"/>
<text x="356.68" y="469.17" font-family="'Liberation Sans', Arial, sans-serif" font-size="24.6" font-weight="bold" text-anchor="middle">0.76</text>
<text x="356.68" y="446.57" font-family="'Liberation Sans', Arial, sans-serif" font-size="31" font-weight="bold" text-anchor="middle">*</text>
<circle cx="459.41" cy="460.17" r="46.78" fill="#b8860b"/>
<text x="459.41" y="469.17" font-family="'Liberation Sans', Arial, sans-serif" font-size="24.6" font-weight="bold" text-anchor="middle">1</text>
<circle cx="50.94" cy="562.43" r="36.84" fill="#5858b3"/>
<text x="50.94" y="571.43" font-family="'Liberation Sans', Arial, sans-serif" font-size="24.6" font-weight="bold" text-anchor="middle">-0.62</text>
<circle cx="152.73" cy="562.43" r="41.05" fill="#3535a3"/>
<text x="152.73" y="571.43" font-family="'Liberation Sans', Arial, sans-serif" font-size="24.6" font-weight="bold" text-anchor="middle">-0.77</text>
<circle cx="254.56" cy="562.43" r="35.32" fill="#d5b870"/>
<text x="254.56" y="571.43" font-family="'Liberation Sans', Arial, sans-serif" font-size="24.6" font-weight="bold" text-anchor="middle">0.57</text>
<circle cx="356.68" cy="562.43" r="35.01" fill="#d5b870"/>
<text x="356.68" y="571.43" font-family="'Liberation Sans', Arial, sans-serif" font-size="24.6" font-weight="bold" text-anchor="middle">0.56</text>
<circle cx="459.41" cy="562.43" r="33.74" fill="#dac081"/>
<text x="459.41" y="571.43" font-family="'Liberation Sans', Arial, sans-serif" font-size="24.6" font-weight="bold" text-anchor="middle">0.52</text>
<circle cx="562.19" cy="562.43" r="46.78" fill="#b8860b"/>
<text x="562.19" y="571.43" font-family="'Liberation Sans', Arial, sans-serif" font-size="24.6" font-weight="bold" text-anchor="middle">1</text>
<circle cx="50.94" cy="664.69" r="32.75" fill="#7b7bc3"/>
<text x="50.94" y="673.69" font-family="'Liberation Sans', Arial, sans-serif" font-size="24.6" font-weight="bold" text-anchor="middle">-0.49</text>
<circle cx="152.73" cy="664.69" r="35.32" fill="#6a6abb"/>
<text x="152.73" y="673.69" font-family="'Liberation Sans', Arial, sans-serif" font-size="24.6" font-weight="bold" text-anchor="middle">-0.57</text>
<circle cx="254.56" cy="664.69" r="29.59" fill="#dfc992"/>
<text x="254.56" y="673.69" font-family="'Liberation Sans', Arial, sans-serif" font-size="24.6" font-weight="bold" text-anchor="middle">0.4</text>
<circle cx="356.68" cy="664.69" r="32.07" fill="#dac081"/>
<text x="356.68" y="673.69" font-family="'Liberation Sans', Arial, sans-serif" font-size="24.6" font-weight="bold" text-anchor="middle">0.47</text>
<circle cx="459.41" cy="664.69" r="33.41" fill="#dac081"/>
<text x="459.41" y="673.69" font-family="'Liberation Sans', Arial, sans-serif" font-size="24.6" font-weight="bold" text-anchor="middle">0.51</text>
<circle cx="562.19" cy="664.69" r="38.29" fill="#cca74e"/>
<text x="562.19" y="673.69" font-family="'Liberation Sans', Arial, sans-serif" font-size="24.6" font-weight="bold" text-anchor="middle">0.67</text>
<text x="562.19" y="651.09" font-family="'Liberation Sans', Arial, sans-serif" font-size="31" font-weight="bold" text-anchor="middle">*</text>
<circle cx="664.69" cy="664.69" r="46.78" fill="#b8860b"/>
<text x="664.69" y="673.69" font-family="'Liberation Sans', Arial, sans-serif" font-size="24.6" font-weight="bold" text-anchor="middle">1</text>
<text x="-13.5" y="58.13" font-family="'Liberation Sans', Arial, sans-serif" font-size="25.05" text-anchor="end">Phagocytosis</text>
<text x="55.84" y="-4.30" font-family="'Liberation Sans', Arial, sans-serif" font-size="25.3" transform="rotate(-45 55.84 -4.30)">Phagocytosis</text>
<text x="-13.5" y="160.39" font-family="'Liberation Sans', Arial, sans-serif" font-size="25.05" text-anchor="end">AMR score</text>
<text x="157.63" y="97.96" font-family="'Liberation Sans', Arial, sans-serif" font-size="25.3" transform="rotate(-45 157.63 97.96)">AMR score</text>
<text x="-13.5" y="262.65" font-family="'Liberation Sans', Arial, sans-serif" font-size="25.05" text-anchor="end">Mortality</text>
<text x="259.46" y="200.22" font-family="'Liberation Sans', Arial, sans-serif" font-size="25.3" transform="rotate(-45 259.46 200.22)">Mortality</text>
<text x="-13.5" y="364.91" font-family="'Liberation Sans', Arial, sans-serif" font-size="25.05" text-anchor="end">Capsule amount</text>
<text x="361.58" y="302.48" font-family="'Liberation Sans', Arial, sans-serif" font-size="25.3" transform="rotate(-45 361.58 302.48)">Capsule amount</text>
<text x="-13.5" y="467.17" font-family="'Liberation Sans', Arial, sans-serif" font-size="25.05" text-anchor="end">Sedimentation assay</text>
<text x="464.31" y="404.74" font-family="'Liberation Sans', Arial, sans-serif" font-size="25.3" transform="rotate(-45 464.31 404.74)">Sedimentation assay</text>
<text x="-13.5" y="569.43" font-family="'Liberation Sans', Arial, sans-serif" font-size="25.05" text-anchor="end">Virulence score</text>
<text x="567.09" y="507.00" font-family="'Liberation Sans', Arial, sans-serif" font-size="25.3" transform="rotate(-45 567.09 507.00)">Virulence score</text>
<text x="-13.5" y="671.69" font-family="'Liberation Sans', Arial, sans-serif" font-size="25.05" text-anchor="end">Serum killing</text>
<text x="669.59" y="609.26" font-family="'Liberation Sans', Arial, sans-serif" font-size="25.3" transform="rotate(-45 669.59 609.26)">Serum killing</text>
<rect x="-1.20" y="727.8" width="24.50" height="24.4" fill="#00008b"/>
<rect x="22.70" y="727.8" width="24.50" height="24.4" fill="#121293"/>
<rect x="46.60" y="727.8" width="24.50" height="24.4" fill="#23239b"/>
<rect x="70.50" y="727.8" width="24.50" height="24.4" fill="#3535a3"/>
<rect x="94.40" y="727.8" width="24.50" height="24.4" fill="#4646ab"/>
<rect x="118.30" y="727.8" width="24.50" height="24.4" fill="#5858b3"/>
<rect x="142.20" y="727.8" width="24.50" height="24.4" fill="#6a6abb"/>
<rect x="166.10" y="727.8" width="24.50" height="24.4" fill="#7b7bc3"/>
<rect x="190.01" y="727.8" width="24.50" height="24.4" fill="#8d8dcb"/>
<rect x="213.91" y="727.8" width="24.50" height="24.4" fill="#9e9ed3"/>
<rect x="237.81" y="727.8" width="24.50" height="24.4" fill="#b0b0db"/>
<rect x="261.71" y="727.8" width="24.50" height="24.4" fill="#c1c1e3"/>
<rect x="285.61" y="727.8" width="24.50" height="24.4" fill="#d3d3eb"/>
<rect x="309.51" y="727.8" width="24.50" height="24.4" fill="#e5e5f3"/>
<rect x="333.41" y="727.8" width="24.50" height="24.4" fill="#f6f6fb"/>
<rect x="357.31" y="727.8" width="24.50" height="24.4" fill="#fdfbf7"/>
<rect x="381.21" y="727.8" width="24.50" height="24.4" fill="#f8f2e6"/>
<rect x="405.11" y="727.8" width="24.50" height="24.4" fill="#f3ead5"/>
<rect x="429.01" y="727.8" width="24.50" height="24.4" fill="#eee2c4"/>
<rect x="452.91" y="727.8" width="24.50" height="24.4" fill="#e9d9b3"/>
<rect x="476.81" y="727.8" width="24.50" height="24.4" fill="#e4d1a2"/>
<rect x="500.71" y="727.8" width="24.50" height="24.4" fill="#dfc992"/>
<rect x="524.61" y="727.8" width="24.50" height="24.4" fill="#dac081"/>
<rect x="548.52" y="727.8" width="24.50" height="24.4" fill="#d5b870"/>
<rect x="572.42" y="727.8" width="24.50" height="24.4" fill="#d0b05f"/>
<rect x="596.32" y="727.8" width="24.50" height="24.4" fill="#cca74e"/>
<rect x="620.22" y="727.8" width="24.50" height="24.4" fill="#c79f3d"/>
<rect x="644.12" y="727.8" width="24.50" height="24.4" fill="#c2972d"/>
<rect x="668.02" y="727.8" width="24.50" height="24.4" fill="#bd8e1c"/>
<rect x="691.92" y="727.8" width="23.90" height="24.4" fill="#b8860b"/>
<rect x="-1.2" y="727.8" width="717.02" height="24.4" fill="none" stroke="#1a1a1a" stroke-width="1.2"/>
<line x1="-1.20" y1="752.1999999999999" x2="-1.20" y2="757.8" stroke="#1a1a1a" stroke-width="1.1"/>
<text transform="translate(-2.80 785.00) scale(1.05 1)" font-family="'Liberation Sans', Arial, sans-serif" font-size="18.7" text-anchor="middle">-1</text>
<line x1="70.50" y1="752.1999999999999" x2="70.50" y2="757.8" stroke="#1a1a1a" stroke-width="1.1"/>
<text transform="translate(70.50 785.00) scale(1.05 1)" font-family="'Liberation Sans', Arial, sans-serif" font-size="18.7" text-anchor="middle">-0.8</text>
<line x1="142.20" y1="752.1999999999999" x2="142.20" y2="757.8" stroke="#1a1a1a" stroke-width="1.1"/>
<text transform="translate(142.20 785.00) scale(1.05 1)" font-family="'Liberation Sans', Arial, sans-serif" font-size="18.7" text-anchor="middle">-0.6</text>
<line x1="213.91" y1="752.1999999999999" x2="213.91" y2="757.8" stroke="#1a1a1a" stroke-width="1.1"/>
<text transform="translate(213.91 785.00) scale(1.05 1)" font-family="'Liberation Sans', Arial, sans-serif" font-size="18.7" text-anchor="middle">-0.4</text>
<line x1="285.61" y1="752.1999999999999" x2="285.61" y2="757.8" stroke="#1a1a1a" stroke-width="1.1"/>
<text transform="translate(285.61 785.00) scale(1.05 1)" font-family="'Liberation Sans', Arial, sans-serif" font-size="18.7" text-anchor="middle">-0.2</text>
<line x1="357.31" y1="752.1999999999999" x2="357.31" y2="757.8" stroke="#1a1a1a" stroke-width="1.1"/>
<text transform="translate(357.31 785.00) scale(1.05 1)" font-family="'Liberation Sans', Arial, sans-serif" font-size="18.7" text-anchor="middle">0</text>
<line x1="429.01" y1="752.1999999999999" x2="429.01" y2="757.8" stroke="#1a1a1a" stroke-width="1.1"/>
<text transform="translate(429.01 785.00) scale(1.05 1)" font-family="'Liberation Sans', Arial, sans-serif" font-size="18.7" text-anchor="middle">0.2</text>
<line x1="500.71" y1="752.1999999999999" x2="500.71" y2="757.8" stroke="#1a1a1a" stroke-width="1.1"/>
<text transform="translate(500.71 785.00) scale(1.05 1)" font-family="'Liberation Sans', Arial, sans-serif" font-size="18.7" text-anchor="middle">0.4</text>
<line x1="572.42" y1="752.1999999999999" x2="572.42" y2="757.8" stroke="#1a1a1a" stroke-width="1.1"/>
<text transform="translate(572.42 785.00) scale(1.05 1)" font-family="'Liberation Sans', Arial, sans-serif" font-size="18.7" text-anchor="middle">0.6</text>
<line x1="644.12" y1="752.1999999999999" x2="644.12" y2="757.8" stroke="#1a1a1a" stroke-width="1.1"/>
<text transform="translate(644.12 785.00) scale(1.05 1)" font-family="'Liberation Sans', Arial, sans-serif" font-size="18.7" text-anchor="middle">0.8</text>
<line x1="715.82" y1="752.1999999999999" x2="715.82" y2="757.8" stroke="#1a1a1a" stroke-width="1.1"/>
<text transform="translate(715.82 785.00) scale(1.05 1)" font-family="'Liberation Sans', Arial, sans-serif" font-size="18.7" text-anchor="middle">1</text>
</g>
</g></svg>
</body></html>
